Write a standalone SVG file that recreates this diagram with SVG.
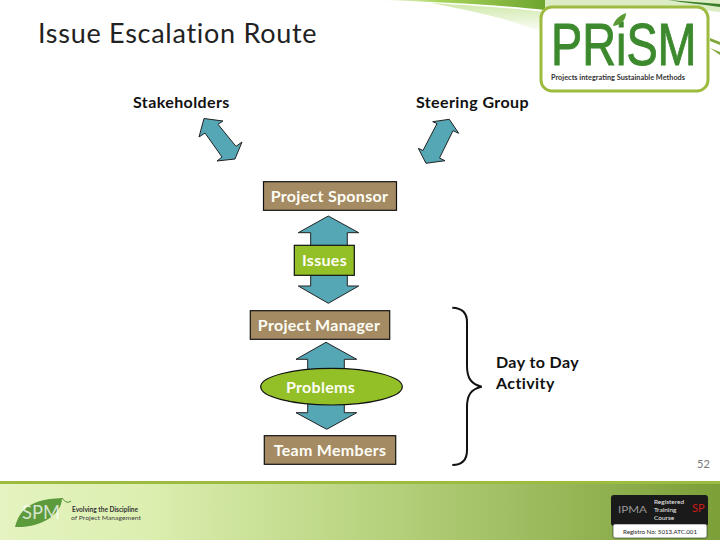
<svg xmlns="http://www.w3.org/2000/svg" width="720" height="540" viewBox="0 0 720 540">
<style>
.t{font-family:"Lato","Open Sans","Liberation Sans",sans-serif}
.lab{font-size:16px;font-weight:700;fill:#111;letter-spacing:.4px}
.w{font-size:16px;font-weight:700;fill:#fdfdf5;text-anchor:middle;letter-spacing:.3px}
.box{fill:#a58b64;stroke:#111;stroke-width:1.2}
.ar{fill:#55a7b5;stroke:#222;stroke-width:1}
.gr{fill:#93bf27;stroke:#111;stroke-width:1.2}
</style>
<defs>
<linearGradient id="foot" x1="0" y1="0" x2="1" y2="0"><stop offset="0" stop-color="#e4f3c0"/><stop offset=".2" stop-color="#dcefb0"/><stop offset=".55" stop-color="#b4d07a"/><stop offset="1" stop-color="#7c9f38"/></linearGradient>
<linearGradient id="sw" x1="0" y1="0" x2="1" y2="0"><stop offset="0" stop-color="#fff"/><stop offset=".35" stop-color="#a9d45c"/><stop offset="1" stop-color="#6ea52e"/></linearGradient>
<linearGradient id="fade" x1="0" y1="0" x2="0" y2="1"><stop offset="0" stop-color="#cfe8a8"/><stop offset="1" stop-color="#fff"/></linearGradient>
</defs>
<rect width="720" height="540" fill="#fff"/>
<g id="background">
<path d="M430 3C480 6 510 8 545 12L545 34C520 22 480 12 430 3Z" fill="url(#fade)"/>
<path d="M380 0H545L545 10C500 5 440 2 380 0Z" fill="url(#sw)"/>
<path d="M545 0H720V12C680 6 610 4 545 10Z" fill="#dcecc4"/>
<path d="M668 0L720 4V7C700 4 685 3 668 0Z" fill="#3d7f2a"/>
<path d="M710 38L720 42V45L710 41ZM710 48L720 52V55Z" fill="#7fa83a"/>
<rect x="0" y="481" width="720" height="59" fill="url(#foot)"/>
<rect x="0" y="481" width="720" height="3" fill="#9dbb3f"/>
</g>
<text class="t" x="38" y="43" font-size="27" fill="#222" letter-spacing=".72">Issue Escalation Route</text>
<g id="prism-logo">
<rect x="541" y="7" width="167" height="84" rx="11" fill="#fff" stroke="#9dbb3f" stroke-width="3"/>
<text x="0" y="0" transform="translate(551,65) scale(.78,1)" font-size="60" fill="#3d8a2e" stroke="#3d8a2e" stroke-width="1" style="font-family:'Liberation Sans',sans-serif">PRiSM</text>
<path d="M613 26C614 20 620 15 626 13C626 20 621 25 613 26Z" fill="#5a9a35"/>
<text class="t" x="551" y="80" font-size="6.5" font-weight="700" fill="#333" textLength="134" lengthAdjust="spacingAndGlyphs">Projects integrating Sustainable Methods</text>
</g>
<g id="connectors">
<polygon class="ar" points="204,118.5 199,137 205,133 222,157 217,161 235,159 242,142 236,146.4 218,124.3 223,121"/>
<polygon class="ar" points="449.3,119.3 432.7,121.7 437,123.6 423,150.500 418.3,148.3 426,163.3 445,160.7 439.5,158 453,130.7 458.7,133.3"/>
<polygon class="ar" points="328.3,216 298.3,232.7 310.7,232.7 310.7,286 298.3,286 328.3,303.3 358.7,286 347.3,286 347.3,232.7 358.7,232.7"/>
<polygon class="ar" points="326,342.3 296,359.3 307.7,359.3 307.7,412.7 296,412.7 326.7,429.3 356.7,412.7 344.3,412.7 344.3,359.3 356.7,359.3"/>
<path d="M452.3 307.7C462 308 467 313 467 322V366C467 378 471 384 481.7 386.7C471 389 467 395 467 407V450C467 460 462 465 452.3 465" fill="none" stroke="#111" stroke-width="2"/>
</g>
<g id="stakeholders"><text class="t lab" x="133" y="108">Stakeholders</text></g>
<g id="steering-group"><text class="t lab" x="416" y="108">Steering Group</text></g>
<g id="project-sponsor"><rect class="box" x="263.5" y="181.7" width="133" height="28.6"/><text class="t w" x="329.5" y="202">Project Sponsor</text></g>
<g id="issues"><rect class="gr" x="294.3" y="245.3" width="60" height="30"/><text class="t w" x="324.5" y="266">Issues</text></g>
<g id="project-manager"><rect class="box" x="250.3" y="310.7" width="139.4" height="28.6"/><text class="t w" x="319" y="331">Project Manager</text></g>
<g id="problems"><ellipse class="gr" cx="331.5" cy="386.7" rx="70.8" ry="18.3"/><text class="t w" x="320.5" y="393">Problems</text></g>
<g id="team-members"><rect class="box" x="264.3" y="435.7" width="131.4" height="28.6"/><text class="t w" x="330" y="456">Team Members</text></g>
<g id="day-to-day"><text class="t lab" x="496" y="368">Day to Day</text><text class="t lab" x="496" y="389">Activity</text></g>
<text class="t" x="697" y="468" font-size="11" fill="#777">52</text>
<g id="spm-logo">
<path d="M15 527C20 507 34 499 62 498C62 515 40 528 15 527Z" fill="#5d9a3c"/>
<path d="M62 498C66 503 68 503 71 501" fill="none" stroke="#4c8a30"/>
<text class="t" x="22" y="519" font-size="20" fill="#fff" fill-opacity=".75" textLength="38" lengthAdjust="spacingAndGlyphs">SPM</text>
<text class="t" x="72" y="512" font-size="6.5" font-weight="700" fill="#333" textLength="66" lengthAdjust="spacingAndGlyphs">Evolving the Discipline</text>
<text class="t" x="71" y="520" font-size="6.5" fill="#444" textLength="70" lengthAdjust="spacingAndGlyphs">of Project Management</text>
</g>
<g id="ipma-badge">
<rect x="611" y="495" width="97" height="31" rx="3" fill="#1a1a1a"/>
<rect x="613" y="524" width="94" height="14" rx="2" fill="#fff" stroke="#222" stroke-width=".6"/>
<text class="t" x="618" y="513" font-size="10" fill="#999" textLength="29" lengthAdjust="spacingAndGlyphs">IPMA</text>
<text class="t" x="654" y="504" font-size="6.5" fill="#eee">Registered</text>
<text class="t" x="654" y="512" font-size="6.5" fill="#eee">Training</text>
<text class="t" x="654" y="519.5" font-size="6.5" fill="#eee">Course</text>
<text class="t" x="692" y="512" font-size="11" fill="#d01a16">SP</text>
<text class="t" x="623" y="534" font-size="6" fill="#222" textLength="74" lengthAdjust="spacingAndGlyphs">Registro No: 5013.ATC.001</text>
</g>
</svg>
